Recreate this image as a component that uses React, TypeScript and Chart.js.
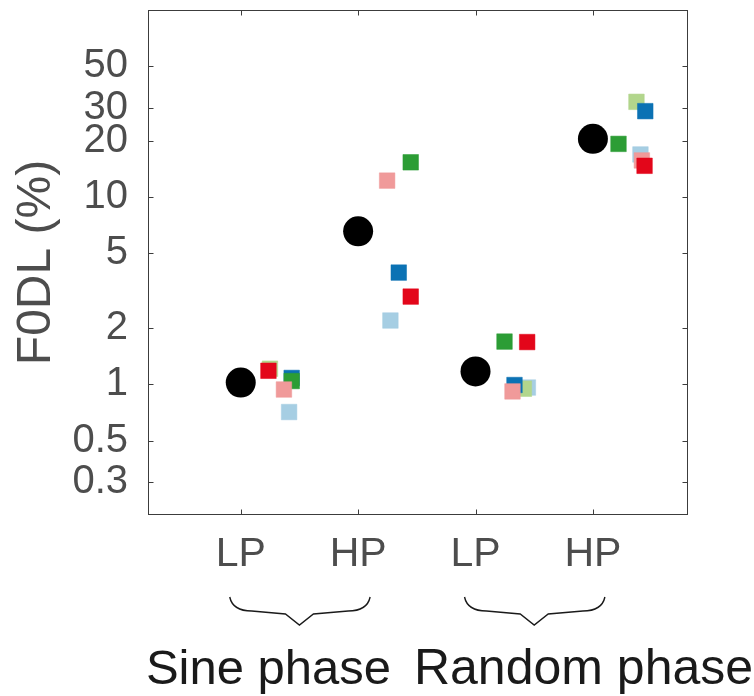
import { useEffect, useRef } from 'react';
import { Chart, registerables } from 'chart.js';

Chart.register(...registerables);

const FONT = "'Liberation Sans', Arial, Helvetica, sans-serif";

// Conditions
const categories = ['LP', 'HP', 'LP', 'HP'];
const categoryX = [1, 2, 3, 4];
const groupLabels = ['Sine phase', 'Random phase'];
const yTicks = [0.3, 0.5, 1, 2, 5, 10, 20, 30, 50];

// Mean F0DL (%) per condition (black circles)
const meanValues = [1.02, 6.56, 1.17, 20.5];

// Individual listeners (squares): jittered x positions and F0DL values
const redX = [1.236, 2.448, 3.44, 4.44];
const redY = [1.18, 2.94, 1.68, 14.7];
const pinkX = [1.368, 2.247, 3.315, 4.417];
const pinkY = [0.937, 12.25, 0.915, 15.7];
const greenX = [1.434, 2.448, 3.247, 4.218];
const greenY = [1.04, 15.35, 1.69, 19.25];
const blueX = [1.434, 2.346, 3.332, 4.446];
const blueY = [1.08, 3.95, 0.99, 28.8];
const lightGreenX = [1.249, 2.3, 3.412, 4.371];
const lightGreenY: (number | null)[] = [1.21, null, 0.946, 32.3];
const lightBlueX = [1.412, 2.275, 3.446, 4.405];
const lightBlueY = [0.71, 2.19, 0.96, 16.9];

const pts = (xs: number[], ys: (number | null)[]) =>
  xs.map((x, i) => ({ x, y: ys[i] })).filter((p) => p.y !== null);

const square = (label: string, color: string, edge: string, xs: number[], ys: (number | null)[], order: number) => ({
  label,
  data: pts(xs, ys),
  pointStyle: 'rect',
  pointRadius: 11,
  pointHoverRadius: 11,
  backgroundColor: color,
  borderColor: edge,
  borderWidth: 1,
  showLine: false,
  order,
});

const framePlugin = {
  id: 'frame',
  afterDraw(chart: any) {
    const { ctx, chartArea: a, scales } = chart;
    const xs = scales.x;
    const ys = scales.y;
    ctx.save();
    ctx.strokeStyle = '#3c3c3c';
    ctx.lineWidth = 1;
    const L = Math.round(a.left) + 0.5;
    const R = Math.round(a.right) - 0.5;
    const T = Math.round(a.top) + 0.5;
    const B = Math.round(a.bottom) - 0.5;
    ctx.strokeRect(L, T, R - L, B - T);
    ctx.beginPath();
    for (const v of yTicks) {
      const py = Math.round(ys.getPixelForValue(v)) + 0.5;
      ctx.moveTo(L, py);
      ctx.lineTo(L + 5, py);
      ctx.moveTo(R, py);
      ctx.lineTo(R - 5, py);
    }
    for (const v of categoryX) {
      const px = Math.round(xs.getPixelForValue(v)) + 0.5;
      ctx.moveTo(px, B);
      ctx.lineTo(px, B - 5);
      ctx.moveTo(px, T);
      ctx.lineTo(px, T + 5);
    }
    ctx.stroke();

    // braces
    ctx.strokeStyle = '#1a1a1a';
    ctx.lineWidth = 1.4;
    const yEnd = a.bottom + 82;
    const yMid = a.bottom + 96;
    const yIn = a.bottom + 99;
    const yTip = a.bottom + 110;
    for (let g = 0; g < 2; g++) {
      const c1 = xs.getPixelForValue(categoryX[2 * g]);
      const c2 = xs.getPixelForValue(categoryX[2 * g + 1]);
      const x0 = c1 - 11;
      const x1 = c2 + 12;
      const tip = (c1 + c2) / 2;
      ctx.beginPath();
      ctx.moveTo(x0, yEnd);
      ctx.quadraticCurveTo(x0 + 3, yMid, x0 + 22, yMid);
      ctx.lineTo(tip - 14, yIn);
      ctx.lineTo(tip, yTip);
      ctx.lineTo(tip + 14, yIn);
      ctx.lineTo(x1 - 22, yMid);
      ctx.quadraticCurveTo(x1 - 3, yMid, x1, yEnd);
      ctx.stroke();
    }

    // group labels
    ctx.fillStyle = '#1a1a1a';
    ctx.textAlign = 'center';
    ctx.textBaseline = 'alphabetic';
    ctx.font = `49px ${FONT}`;
    ctx.fillText(groupLabels[0], 268.5, 684);
    ctx.font = `50px ${FONT}`;
    ctx.fillText(groupLabels[1], 583.5, 684);
    ctx.restore();
  },
};

export default function App() {
  const ref = useRef<HTMLCanvasElement>(null);

  useEffect(() => {
    if (!ref.current) return;
    const chart = new Chart(ref.current, {
      type: 'scatter',
      data: {
        datasets: [
          {
            label: 'Mean',
            data: categoryX.map((x, i) => ({ x, y: meanValues[i] })),
            pointStyle: 'circle',
            pointRadius: 15,
            pointHoverRadius: 15,
            backgroundColor: '#000000',
            borderColor: '#000000',
            borderWidth: 0,
            order: 0,
          } as any,
          square('S1', '#e3061a', 'rgba(227,6,26,0.5)', redX, redY, 1),
          square('S2', '#f09a9a', 'rgba(240,154,154,0.5)', pinkX, pinkY, 2),
          square('S3', '#2c9d35', 'rgba(44,157,53,0.5)', greenX, greenY, 3),
          square('S4', '#0b72b4', 'rgba(11,114,180,0.5)', blueX, blueY, 4),
          square('S5', '#b2d68c', 'rgba(178,214,140,0.5)', lightGreenX, lightGreenY, 5),
          square('S6', '#a6cee3', 'rgba(166,206,227,0.5)', lightBlueX, lightBlueY, 6),
        ],
      },
      options: {
        responsive: false,
        animation: false,
        layout: { autoPadding: false, padding: { left: 0, right: 66, top: 10, bottom: 0 } },
        plugins: { legend: { display: false }, tooltip: { enabled: false } },
        scales: {
          x: {
            type: 'linear',
            min: 0.21,
            max: 4.81,
            grid: { display: false, drawTicks: false },
            border: { display: false },
            afterBuildTicks: (s: any) => {
              s.ticks = categoryX.map((v) => ({ value: v }));
            },
            afterFit: (s: any) => {
              s.height = 181;
              s.paddingLeft = 0;
              s.paddingRight = 0;
              s.paddingTop = 0;
              s.paddingBottom = 0;
            },
            ticks: {
              autoSkip: false,
              maxRotation: 0,
              padding: 15,
              color: '#4d4d4d',
              font: { family: FONT, size: 41 },
              callback: (v: any) => {
                const i = categoryX.indexOf(Number(v));
                return i >= 0 ? categories[i] : '';
              },
            },
          },
          y: {
            type: 'logarithmic',
            min: 0.2,
            max: 100,
            grid: { display: false, drawTicks: false },
            border: { display: false },
            afterBuildTicks: (s: any) => {
              s.ticks = yTicks.map((v) => ({ value: v }));
            },
            afterFit: (s: any) => {
              s.width = 148;
              s.paddingTop = 0;
              s.paddingBottom = 0;
              s.paddingLeft = 0;
              s.paddingRight = 0;
            },
            ticks: {
              autoSkip: false,
              padding: 20,
              color: '#4d4d4d',
              font: { family: FONT, size: 40 },
              callback: (v: any) => String(v),
            },
            title: {
              display: true,
              text: 'F0DL (%)',
              color: '#4d4d4d',
              font: { family: FONT, size: 48 },
              padding: { top: 8, bottom: 0 },
            },
          },
        },
      },
      plugins: [framePlugin],
    } as any);
    return () => chart.destroy();
  }, []);

  return (
    <div style={{ position: 'absolute', left: 0, top: 0, width: 754, height: 696, background: '#ffffff' }}>
      <canvas ref={ref} width={754} height={696} />
    </div>
  );
}
